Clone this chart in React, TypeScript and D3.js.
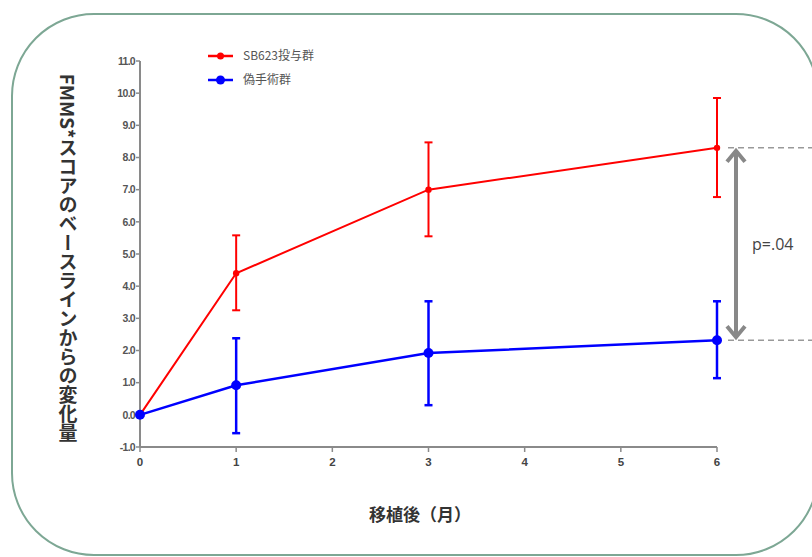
import React from "react";
import * as d3 from "d3";

const months = [0, 1, 3, 6];
const sbMean = [0, 4.4, 7.0, 8.3];
const sbLow = [0, 3.25, 5.55, 6.77];
const sbHigh = [0, 5.58, 8.47, 9.85];
const shamMean = [0, 0.92, 1.92, 2.32];
const shamLow = [0, -0.57, 0.3, 1.14];
const shamHigh = [0, 2.38, 3.53, 3.53];
const xTicks = [0, 1, 2, 3, 4, 5, 6];
const yTicks = [-1, 0, 1, 2, 3, 4, 5, 6, 7, 8, 9, 10, 11];
const seriesNames = ["SB623投与群", "偽手術群"];
const yTitle = "FMMS*スコアのベースラインからの変化量";
const xTitle = "移植後（月）";
const pLabel = "p=.04";

export default function App() {
  const W = 812, H = 557;
  const x = d3.scaleLinear().domain([0, 6]).range([140, 717]);
  const y = d3.scaleLinear().domain([-1, 11]).range([447, 61]);
  const line = d3.line<number>().x((_, i) => x(months[i])).y((d) => y(d));

  const series = [
    { name: seriesNames[0], mean: sbMean, lo: sbLow, hi: sbHigh, color: "#ff0000", r: 3.2, w: 2 },
    { name: seriesNames[1], mean: shamMean, lo: shamLow, hi: shamHigh, color: "#0000ff", r: 5, w: 2.5 },
  ];
  const axisColor = "#8a8a8a";
  const tickFont = "'Liberation Sans', Arial, sans-serif";
  const y6a = y(sbMean[3]);
  const y6b = y(shamMean[3]);
  const arrowX = 736;

  return (
    <svg width={W} height={H} style={{ position: "absolute", left: 0, top: 0, background: "#fff" }}>
      <rect x={12} y={14} width={806} height={541} rx={82} ry={82} fill="none" stroke="#7da794" strokeWidth={2} />

      {/* y axis */}
      <line x1={x(0)} x2={x(0)} y1={y(11)} y2={y(-1)} stroke={axisColor} strokeWidth={2} />
      {yTicks.map((t) => (
        <g key={t}>
          <line x1={x(0) - 4} x2={x(0)} y1={y(t)} y2={y(t)} stroke={axisColor} strokeWidth={1.5} />
          <text x={x(0) - 5} y={y(t)} dy="0.35em" textAnchor="end" fontSize={10.5} fontWeight="bold"
            fill="#555" fontFamily={tickFont} letterSpacing={-0.7}>
            {t.toFixed(1)}
          </text>
        </g>
      ))}
      {/* x axis */}
      <line x1={x(0)} x2={x(6)} y1={y(-1)} y2={y(-1)} stroke={axisColor} strokeWidth={2} />
      {xTicks.map((t) => (
        <g key={t}>
          <line x1={x(t)} x2={x(t)} y1={y(-1)} y2={y(-1) + 5} stroke={axisColor} strokeWidth={1.5} />
          <text x={x(t)} y={y(-1) + 19} textAnchor="middle" fontSize={11.5} fontWeight="bold"
            fill="#444" fontFamily={tickFont}>
            {t}
          </text>
        </g>
      ))}

      {/* series */}
      {series.map((s) => (
        <g key={s.name}>
          <path d={line(s.mean) || ""} fill="none" stroke={s.color} strokeWidth={s.w} />
          {months.map((m, i) =>
            i === 0 ? null : (
              <g key={m} stroke={s.color} strokeWidth={s.w}>
                <line x1={x(m)} x2={x(m)} y1={y(s.lo[i])} y2={y(s.hi[i])} />
                <line x1={x(m) - 4} x2={x(m) + 4} y1={y(s.lo[i])} y2={y(s.lo[i])} />
                <line x1={x(m) - 4} x2={x(m) + 4} y1={y(s.hi[i])} y2={y(s.hi[i])} />
              </g>
            )
          )}
          {months.map((m, i) => (
            <circle key={"c" + m} cx={x(m)} cy={y(s.mean[i])} r={s.r} fill={s.color} />
          ))}
        </g>
      ))}

      {/* legend */}
      {series.map((s, i) => (
        <g key={"lg" + i} transform={`translate(0, ${56 + i * 24})`}>
          <line x1={208} x2={233} y1={0} y2={0} stroke={s.color} strokeWidth={2.5} />
          <circle cx={220.5} cy={0} r={i === 0 ? 3.5 : 4.5} fill={s.color} />
          <text x={243} y={0} dy="0.35em" fontSize={12} fill="#555" fontFamily="'Noto Sans CJK JP', sans-serif">
            {s.name}
          </text>
        </g>
      ))}

      {/* significance */}
      <line x1={728} x2={812} y1={y6a} y2={y6a} stroke="#999" strokeWidth={1.5} strokeDasharray="6,4" />
      <line x1={728} x2={812} y1={y6b} y2={y6b} stroke="#999" strokeWidth={1.5} strokeDasharray="6,4" />
      <line x1={arrowX} x2={arrowX} y1={y6a + 3} y2={y6b - 3} stroke="#888" strokeWidth={4} />
      <polyline points={`${arrowX - 9},${y6a + 14} ${arrowX},${y6a + 3} ${arrowX + 9},${y6a + 14}`} fill="none" stroke="#888" strokeWidth={4} />
      <polyline points={`${arrowX - 9},${y6b - 14} ${arrowX},${y6b - 3} ${arrowX + 9},${y6b - 14}`} fill="none" stroke="#888" strokeWidth={4} />
      <text x={752} y={250} fontSize={16} fill="#444" fontFamily="'Open Sans', 'Liberation Sans', sans-serif">{pLabel}</text>

      {/* titles */}
      <text x={68} y={258} textAnchor="middle" fontSize={19} fontWeight="bold" fill="#333"
        fontFamily="'Noto Sans CJK JP', sans-serif" style={{ writingMode: "vertical-rl" }}>
        {yTitle}
      </text>
      <text x={420} y={521} textAnchor="middle" fontSize={17} fontWeight="bold" fill="#333"
        fontFamily="'Noto Sans CJK JP', sans-serif">
        {xTitle}
      </text>
    </svg>
  );
}
